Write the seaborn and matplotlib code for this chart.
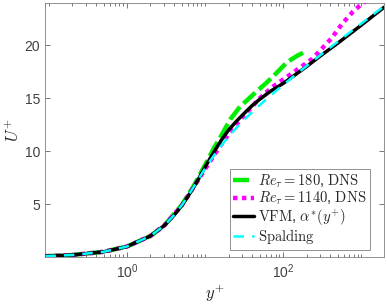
import numpy as np
import pandas as pd
import matplotlib
matplotlib.use("Agg")
import matplotlib.pyplot as plt
import matplotlib.ticker as mticker
import seaborn as sns

# values (y+, U+)
yp_180 = [0.09, 0.2, 0.5, 1, 2, 3, 5, 7, 10, 13, 16.5, 21, 28, 38, 50, 62, 80, 112, 150, 180]
u_180 = [0.09, 0.2, 0.5, 1.0, 2.0, 2.98, 4.9, 6.6, 8.7, 10.3, 11.6, 13.0, 14.2, 15.1, 15.9, 16.5, 17.3, 18.4, 19.0, 19.3]

yp_1140 = [0.09, 0.2, 0.5, 1, 2, 3, 5, 7, 10, 13, 16, 20, 30, 50, 74, 116, 165, 233, 298, 421, 565, 789, 1050, 1140]
u_1140 = [0.09, 0.2, 0.5, 1.0, 2.0, 2.98, 4.85, 6.5, 8.3, 9.6, 10.6, 11.6, 13.2, 15.0, 16.1, 17.1, 17.9, 18.7, 19.5, 20.7, 22.0, 23.2, 24.0, 24.2]

yp_vfm = [0.09, 0.2, 0.5, 1, 2, 3, 4, 5, 6, 7, 8, 10, 12, 16, 20, 25, 30, 40, 50, 70, 100, 130, 200, 300, 500, 1000, 1968]
u_vfm = [0.09, 0.2, 0.5, 1.0, 2.0, 2.98, 3.95, 4.85, 5.7, 6.5, 7.2, 8.5, 9.5, 11.0, 12.0, 12.8, 13.4, 14.3, 14.9, 15.7, 16.4, 17.0, 18.0, 19.0, 20.2, 21.9, 23.6]

yp_spal = [0.09, 0.2, 0.5, 1.0, 2.003, 3.015, 4.052, 5.14, 6.32, 7.68, 9.31, 11.39, 14.19, 18.11, 23.76, 32.05, 44.4, 62.9, 90.7, 132.7, 196, 291.5, 435.9, 653.7, 982, 1478, 1968]
u_spal = [0.09, 0.2, 0.5, 1, 2, 3, 4, 5, 6, 7, 8, 9, 10, 11, 12, 13, 14, 15, 16, 17, 18, 19, 20, 21, 22, 23, 23.7]

labels = [r'$Re_\tau = 180$, $\mathrm{DNS}$', r'$Re_\tau = 1140$, $\mathrm{DNS}$',
          r'$\mathrm{VFM}$, $\alpha^{*}(y^{+})$', r'$\mathrm{Spalding}$']

sns.set_style("ticks")
plt.rcParams['font.family'] = ['Liberation Sans', 'DejaVu Sans']
plt.rcParams['mathtext.fontset'] = 'cm'
plt.rcParams['axes.linewidth'] = 0.6

fig = plt.figure(figsize=(3.87, 3.05), dpi=100)
ax = fig.add_axes([0.1163, 0.157, 0.8757, 0.833])

sns.lineplot(x=yp_180, y=u_180, ax=ax, color='#00ee00', lw=3.2, label=labels[0], zorder=2)
ax.lines[-1].set_dashes((3.6, 1.1))
sns.lineplot(x=yp_1140, y=u_1140, ax=ax, color='#ff00ff', lw=3.2, label=labels[1], zorder=3)
ax.lines[-1].set_dashes((1.0, 1.0))
sns.lineplot(x=yp_vfm, y=u_vfm, ax=ax, color='black', lw=2.5, label=labels[2], zorder=4)
sns.lineplot(x=yp_spal, y=u_spal, ax=ax, color='#00ffff', lw=1.8, label=labels[3], zorder=5)
ax.lines[-1].set_dashes((4.2, 3.2))

ax.set_xscale('log')
ax.set_xlim(0.089, 1960)
ax.set_ylim(0, 24)
ax.set_xticks([1, 100])
ax.xaxis.set_major_formatter(mticker.LogFormatterMathtext())
ax.xaxis.set_minor_locator(mticker.LogLocator(base=10, subs=np.arange(1, 10), numticks=20))
ax.xaxis.set_minor_formatter(mticker.NullFormatter())
ax.set_yticks([5, 10, 15, 20])
ax.tick_params(which='both', direction='in', top=True, right=True, colors='#404040',
               labelsize=10, width=0.5)
ax.tick_params(which='major', length=3.5)
ax.tick_params(which='minor', length=2)
for s in ax.spines.values():
    s.set_color('#808080')

ax.set_xlabel(r'$y^{+}$', fontsize=12, labelpad=2)
ax.set_ylabel(r'$U^{+}$', fontsize=12, labelpad=2)

leg = ax.legend(loc='lower right', fontsize=10.5, fancybox=False, framealpha=1,
                edgecolor='#808080', handlelength=1.4, handletextpad=0.3,
                labelspacing=0.0, borderpad=0.25, borderaxespad=0.0,
                bbox_to_anchor=(0.96, 0.028))
leg.get_frame().set_linewidth(0.6)

fig.savefig('out.png', dpi=100)
